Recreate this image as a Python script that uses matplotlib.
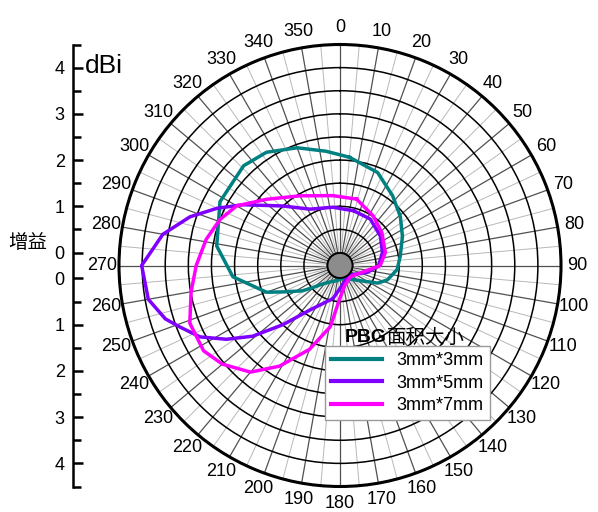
import numpy as np
import matplotlib
matplotlib.use('Agg')
import matplotlib.pyplot as plt
from matplotlib.patches import Circle
from matplotlib.ticker import FixedLocator

plt.rcParams['font.family'] = ['Liberation Sans', 'Noto Sans CJK SC']

# gain patterns (angle in deg, gain in dBi)
ang_3x3 = [5, 22, 37, 51, 65, 81, 94, 107, 115, 130, 150, 168, 190, 212,
           225, 231, 236, 245, 250, 264, 279, 298, 316, 327, 340, 353]
gain_3x3 = [2.07, 1.89, 1.61, 1.40, 1.21, 1.04, 0.96, 0.79, 0.62, 0.22, 0.05,
            0.0, 0.05, 0.14, 0.30, 0.48, 0.70, 1.07, 1.41, 2.05, 2.42, 2.66,
            2.72, 2.64, 2.43, 2.21]

ang_3x5 = [14, 33, 54, 73, 91, 104, 138, 170, 192, 214, 224, 231, 237, 243,
           249, 253, 260, 270, 280, 288, 295, 302, 316, 332, 353]
gain_3x5 = [0.94, 0.92, 0.80, 0.68, 0.55, 0.33, 0.0, 0.12, 0.45, 0.88, 1.50,
            2.15, 2.65, 3.12, 3.43, 3.67, 3.93, 4.01, 3.61, 3.13, 2.65, 2.20,
            1.51, 1.10, 0.99]

ang_3x7 = [14, 34, 52, 74, 90, 100, 137, 165, 180, 189, 200, 211, 220, 230,
           238, 249, 260, 270, 281, 291, 300, 312, 330, 354]
gain_3x7 = [1.20, 1.01, 0.87, 0.74, 0.59, 0.32, 0.05, 0.15, 0.42, 1.06, 1.65,
            2.26, 2.73, 3.04, 3.20, 3.20, 2.99, 2.83, 2.67, 2.50, 2.30, 1.86,
            1.46, 1.24]

series = [('3mm*3mm', ang_3x3, gain_3x3, '#008080'),
          ('3mm*5mm', ang_3x5, gain_3x5, '#7f00ff'),
          ('3mm*7mm', ang_3x7, gain_3x7, '#ff00ff')]

gain_ticks = [0, 1, 2, 3, 4]
theta_labels = [str(d) for d in range(0, 360, 10)]

RMAX = 4.5
ROFF = 0.28  # size of the hole in the middle, in dBi

W, H = 598, 512
cx, cy, R = 340, 265.5, 221

fig = plt.figure(figsize=(W / 100, H / 100), dpi=100)
ax = fig.add_axes([(cx - R) / W, (H - cy - R) / H, 2 * R / W, 2 * R / H],
                  projection='polar')
ax.set_theta_zero_location('N')
ax.set_theta_direction(-1)
ax.set_rlim(0, RMAX)
ax.set_rorigin(-ROFF)

ax.set_yticks(np.arange(0.5, RMAX + 0.01, 0.5))
ax.set_yticklabels([])
ax.yaxis.grid(True, color='black', lw=1.1)

ax.set_xticks(np.deg2rad(np.arange(0, 360, 10)))
ax.set_xticklabels(theta_labels)
ax.xaxis.set_minor_locator(FixedLocator(np.deg2rad(np.arange(5, 360, 10))))
ax.xaxis.grid(True, which='major', color='#505050', lw=0.9)
ax.xaxis.grid(True, which='minor', color='#b8b8b8', lw=0.7)
ax.tick_params(axis='x', which='major', direction='in', length=8, width=1.6,
               pad=5, labelsize=13)
ax.tick_params(axis='x', which='minor', direction='in', length=5, width=1.1)
ax.spines['polar'].set_linewidth(2.2)

for name, a, g, c in series:
    th = np.deg2rad(np.append(a, a[0] + 360))
    ax.plot(th, np.append(g, g[0]), color=c, lw=2.5, label=name, zorder=3)

ax.add_patch(Circle((0.5, 0.5), 12.5 / (2 * R), transform=ax.transAxes,
                    fc='#8c8c8c', ec='black', lw=1.3, zorder=5,
                    clip_on=False))

leg = ax.legend(loc='upper left', bbox_to_anchor=(325 / W, 1 - 346 / H),
                bbox_transform=fig.transFigure, fontsize=13, frameon=True,
                fancybox=False, edgecolor='#9a9a9a', framealpha=1,
                handlelength=2.8, borderpad=0.35, labelspacing=0.3,
                handletextpad=0.8, borderaxespad=0)
leg.get_frame().set_linewidth(1.0)
for ln in leg.get_lines():
    ln.set_linewidth(3)

fig.text(345 / W, 1 - 337 / H, 'PBG', fontsize=14, fontweight='bold',
         va='center', ha='left')
fig.text(387 / W, 1 - 337 / H, '面积大小', fontsize=14, va='center',
         ha='left', family=['Noto Sans CJK SC'])

# separate gain axis on the left
ax2 = fig.add_axes([73 / W, (H - cy - R) / H, 0.01, 2 * R / H])
ax2.set_ylim(-(RMAX + ROFF), RMAX + ROFF)
for s in ['right', 'top', 'bottom']:
    ax2.spines[s].set_visible(False)
ax2.spines['left'].set_linewidth(1.8)
ax2.patch.set_visible(False)
ax2.set_xticks([])
major = [ROFF + v for v in gain_ticks] + [-(ROFF + v) for v in gain_ticks]
ax2.set_yticks(major)
ax2.set_yticklabels([str(v) for v in gain_ticks] * 2)
minor = [ROFF + v + 0.5 for v in gain_ticks] + \
        [-(ROFF + v + 0.5) for v in gain_ticks]
ax2.set_yticks(minor, minor=True)
ax2.tick_params(axis='y', which='major', direction='in', length=7, width=1.8,
                labelsize=13, pad=6)
ax2.tick_params(axis='y', which='minor', direction='in', length=6, width=1.8)

fig.text(85 / W, 1 - 66 / H, 'dBi', fontsize=19, va='center', ha='left')
fig.text(28 / W, 1 - 243 / H, '增益', fontsize=14, va='center', ha='center',
         family=['Noto Sans CJK SC'])

fig.savefig('out.png', dpi=100)
